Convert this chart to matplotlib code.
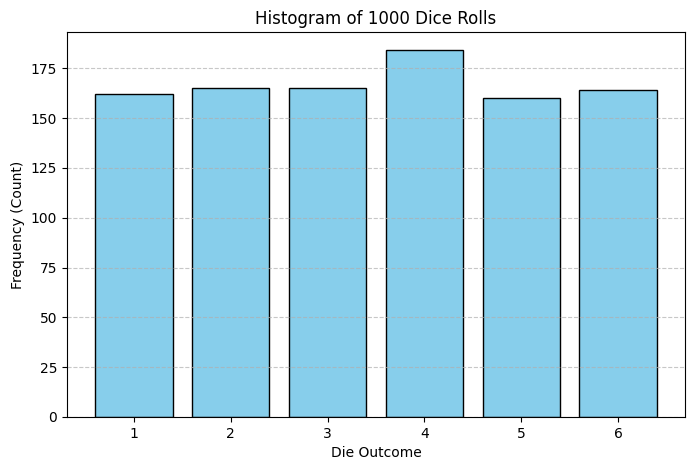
import matplotlib
matplotlib.use("Agg")
import matplotlib.pyplot as plt

# Resultados de las tiradas
outcomes = [1, 2, 3, 4, 5, 6]
counts = [162, 165, 165, 184, 160, 164]

fig = plt.figure(figsize=(6.95, 4.7), dpi=100)
ax = fig.add_axes([0.0964, 0.1128, 0.8892, 0.8191])

ax.bar(outcomes, counts, width=0.8, color="skyblue", edgecolor="black")
ax.grid(axis="y", linestyle="--", alpha=0.7)

ax.set_xticks(outcomes)
ax.set_xlabel("Die Outcome")
ax.set_ylabel("Frequency (Count)")
ax.set_title("Histogram of 1000 Dice Rolls")

fig.savefig("out.png", dpi=100)
